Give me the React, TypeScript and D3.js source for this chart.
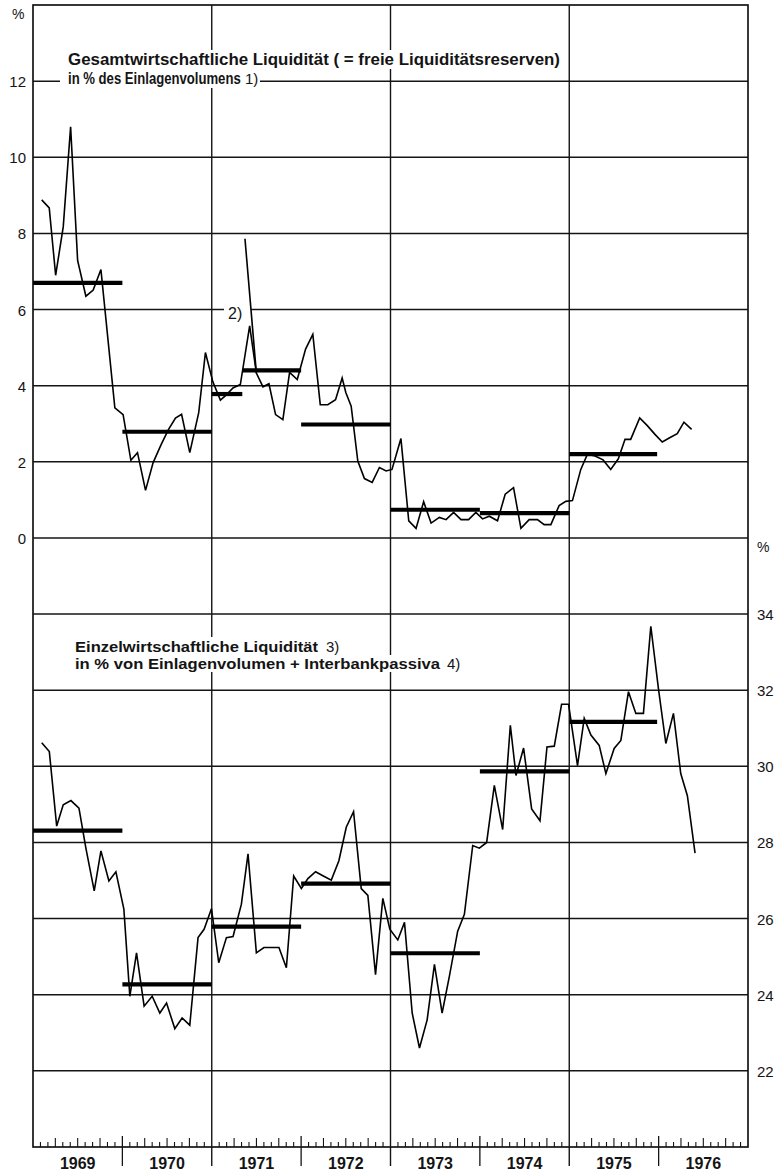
import React from 'react';
import * as d3 from 'd3';

// x values are months since Jan 1969
const years = ['1969', '1970', '1971', '1972', '1973', '1974', '1975', '1976'];
const leftTickValues = [0, 2, 4, 6, 8, 10, 12];
const rightTickValues = [22, 24, 26, 28, 30, 32, 34];

// Gesamtwirtschaftliche Liquidität, % des Einlagenvolumens
const gesamtPoints: [number, number][] = [
  [1.17, 8.88], [2.18, 8.67], [3.04, 6.9], [4.06, 8.17], [5.05, 10.8], [5.99, 7.29],
  [7.1, 6.35], [8.08, 6.51], [9.12, 7.05], [10.99, 3.42], [12.1, 3.24], [13.14, 2.04],
  [14.03, 2.24], [15.11, 1.25], [16.13, 1.98], [17.2, 2.45], [18.2, 2.85], [19.13, 3.15],
  [19.95, 3.25], [21.05, 2.24], [22.25, 3.29], [23.15, 4.87], [24.15, 4.1], [25.16, 3.62],
  [25.96, 3.76], [26.85, 3.94], [27.84, 4.03], [29.09, 5.57], [29.99, 4.33], [30.88, 3.97],
  [31.68, 4.05], [32.57, 3.24], [33.55, 3.11], [34.45, 4.35], [35.48, 4.16], [36.6, 4.96],
  [37.57, 5.35], [38.57, 3.5], [39.58, 3.5], [40.62, 3.63], [41.51, 4.2], [42.0, 3.82],
  [42.72, 3.46], [43.61, 2.02], [44.5, 1.56], [45.54, 1.46], [46.51, 1.85], [47.41, 1.76],
  [48.2, 1.8], [49.4, 2.61], [50.45, 0.45], [51.43, 0.25], [52.45, 0.95], [53.45, 0.39],
  [54.56, 0.54], [55.46, 0.48], [56.47, 0.67], [57.47, 0.48], [58.48, 0.48], [59.46, 0.67],
  [60.36, 0.5], [61.26, 0.57], [62.37, 0.45], [63.4, 1.15], [64.52, 1.32], [65.51, 0.25],
  [66.62, 0.48], [67.73, 0.48], [68.63, 0.35], [69.53, 0.35], [70.64, 0.85], [71.54, 0.96],
  [72.43, 0.98], [73.55, 1.8], [74.44, 2.2], [75.47, 2.15], [76.54, 2.05], [77.57, 1.8],
  [78.59, 2.08], [79.49, 2.59], [80.25, 2.59], [81.46, 3.15], [82.48, 2.95], [83.51, 2.72],
  [84.49, 2.52], [85.48, 2.63], [86.5, 2.74], [87.4, 3.04], [88.43, 2.85],
];
// new definition from spring 1971 (footnote 2)
const gesamtBreak: [number, number][] = [[28.46, 7.86], [29.99, 4.33]];
// [from month, to month, average]
const gesamtAvg: [number, number, number][] = [
  [0, 12, 6.7], [12, 24, 2.79], [24, 28.1, 3.78], [28.1, 36, 4.4],
  [36, 48, 2.98], [48, 60, 0.74], [60, 72, 0.65], [72, 83.8, 2.2],
];

// Einzelwirtschaftliche Liquidität, % von Einlagenvolumen + Interbankpassiva
const einzelPoints: [number, number][] = [
  [1.17, 30.62], [2.19, 30.39], [3.18, 28.43], [4.06, 28.99], [5.09, 29.1], [6.17, 28.9],
  [7.1, 27.85], [8.22, 26.73], [9.12, 27.78], [10.19, 26.99], [11.13, 27.23], [12.2, 26.25],
  [13.0, 23.96], [13.9, 25.1], [14.92, 23.7], [16.0, 23.96], [17.03, 23.52], [17.93, 23.78],
  [19.04, 23.11], [20.02, 23.39], [21.05, 23.2], [22.16, 25.5], [22.97, 25.72], [23.96, 26.26],
  [24.94, 24.84], [25.97, 25.5], [26.86, 25.53], [27.98, 26.38], [28.87, 27.7], [29.99, 25.1],
  [31.01, 25.24], [32.0, 25.24], [33.02, 25.24], [34.02, 24.71], [35.0, 27.12], [36.03, 26.79],
  [36.91, 27.05], [37.94, 27.23], [38.98, 27.12], [40.05, 27.01], [41.07, 27.52], [42.06, 28.4],
  [43.04, 28.81], [44.07, 26.79], [44.96, 26.61], [45.99, 24.53], [46.97, 26.53], [47.91, 25.72],
  [48.98, 25.44], [49.88, 25.9], [50.91, 23.52], [51.89, 22.6], [52.92, 23.34], [53.9, 24.8],
  [54.93, 23.52], [55.91, 24.49], [57.02, 25.67], [57.92, 26.11], [59.04, 27.92], [59.93, 27.85],
  [60.91, 28.0], [61.94, 29.5], [63.06, 28.34], [64.09, 31.08], [64.85, 29.76], [65.87, 30.48],
  [66.95, 28.88], [68.07, 28.57], [69.01, 30.51], [69.99, 30.53], [70.97, 31.63], [71.91, 31.63],
  [73.11, 30.02], [74.01, 31.26], [74.91, 30.82], [76.02, 30.55], [76.92, 29.81], [78.03, 30.47],
  [78.93, 30.68], [79.95, 31.96], [80.94, 31.39], [81.96, 31.39], [82.95, 33.68], [83.97, 32.05],
  [84.97, 30.6], [85.99, 31.39], [86.97, 29.81], [87.86, 29.23], [88.89, 27.72],
];
const einzelAvg: [number, number, number][] = [
  [0, 12, 28.31], [12, 24, 24.27], [24, 36, 25.79], [36, 48, 26.92],
  [48, 60, 25.09], [60, 72, 29.87], [72, 83.8, 31.17],
];

const FONT = "'Liberation Sans', Arial, Helvetica, sans-serif";
const INK = '#141414';

export default function App() {
  const W = 776;
  const H = 1173;
  const x = d3.scaleLinear().domain([0, 96]).range([33, 748]);
  const yTop = d3.scaleLinear().domain([-16, 14]).range([1147, 5]);
  const yBot = d3.scaleLinear().domain([20, 50]).range([1147, 5]);
  const axisY = yTop(-16);

  const lineTop = d3.line<[number, number]>().x(d => x(d[0])).y(d => yTop(d[1]));
  const lineBot = d3.line<[number, number]>().x(d => x(d[0])).y(d => yBot(d[1]));

  const hGrid = d3.range(-14, 14, 2);
  const months = d3.range(1, 96);

  const bold = { fontFamily: FONT, fontWeight: 'bold' as const, fill: INK };
  const plain = { fontFamily: FONT, fill: INK };

  return (
    <div style={{ position: 'absolute', left: 0, top: 0 }}>
      <svg width={W} height={H} viewBox={`0 0 ${W} ${H}`} style={{ display: 'block', background: '#fff' }}>
        <rect x={0} y={0} width={W} height={H} fill="#fff" />
        {/* horizontal grid */}
        {hGrid.map(v => (
          <line key={'h' + v} x1={x(0)} x2={x(96)} y1={yTop(v)} y2={yTop(v)} stroke={INK} strokeWidth={1.5} />
        ))}
        {/* vertical grid every two years */}
        {[24, 48, 72].map(m => (
          <line key={'v' + m} x1={x(m)} x2={x(m)} y1={yTop(14)} y2={axisY + 19} stroke={INK} strokeWidth={1.4} />
        ))}
        {/* frame */}
        <rect x={x(0)} y={yTop(14)} width={x(96) - x(0)} height={axisY - yTop(14)} fill="none" stroke={INK} strokeWidth={1.7} />

        {/* month ticks */}
        {months.filter(m => m % 12 !== 0).map(m => (
          <line key={'t' + m} x1={x(m)} x2={x(m)} y1={axisY} y2={axisY - (m % 3 === 0 ? 9 : 5)} stroke={INK} strokeWidth={1.1} />
        ))}
        {[12, 36, 60, 84].map(m => (
          <line key={'y' + m} x1={x(m)} x2={x(m)} y1={axisY - 11} y2={axisY + 19} stroke={INK} strokeWidth={1.3} />
        ))}
        {years.map((yr, i) => (
          <text key={yr} x={x(i * 12 + 6)} y={1169} textAnchor="middle" fontSize={16} {...bold}>{yr}</text>
        ))}

        {/* left axis labels */}
        {leftTickValues.map(v => (
          <text key={'l' + v} x={26} y={yTop(v) + 6} textAnchor="end" fontSize={15} {...plain}>{v}</text>
        ))}
        <text x={12} y={19} fontSize={14} {...plain}>%</text>
        {/* right axis labels */}
        {rightTickValues.map(v => (
          <text key={'r' + v} x={757} y={yBot(v) + 6} fontSize={15} {...plain}>{v}</text>
        ))}
        <text x={757} y={552} fontSize={14} {...plain}>%</text>

        {/* titles with white backing */}
        <rect x={63} y={50} width={500} height={19} fill="#fff" />
        <rect x={60} y={69} width={200} height={19} fill="#fff" />
        <text x={68} y={65} fontSize={16} {...bold} textLength={492} lengthAdjust="spacingAndGlyphs">
          Gesamtwirtschaftliche Liquidität ( = freie Liquiditätsreserven)
        </text>
        <text transform="translate(68,84) scale(0.82,1)" x={0} y={0} fontSize={16} {...bold}>
          in % des Einlagenvolumens
        </text>
        <text x={245} y={84} fontSize={15} {...plain}>1)</text>

        <rect x={71} y={637} width={278} height={18} fill="#fff" />
        <rect x={71} y={655} width={398} height={17} fill="#fff" />
        <text x={75} y={652} fontSize={15} {...bold} textLength={243} lengthAdjust="spacingAndGlyphs">
          Einzelwirtschaftliche Liquidität
        </text>
        <text x={326} y={652} fontSize={15} {...plain}>3)</text>
        <text x={75} y={669} fontSize={15} {...bold} textLength={365} lengthAdjust="spacingAndGlyphs">
          in % von Einlagenvolumen + Interbankpassiva
        </text>
        <text x={447} y={669} fontSize={15} {...plain}>4)</text>

        {/* footnote 2 marker */}
        <rect x={224} y={303} width={27} height={17} fill="#fff" />
        <text x={228} y={319} fontSize={16} {...plain}>2)</text>

        {/* annual averages */}
        {gesamtAvg.map(([a, b, v], i) => (
          <line key={'ga' + i} x1={x(a)} x2={x(b)} y1={yTop(v)} y2={yTop(v)} stroke="#000" strokeWidth={4.2} />
        ))}
        {einzelAvg.map(([a, b, v], i) => (
          <line key={'ea' + i} x1={x(a)} x2={x(b)} y1={yBot(v)} y2={yBot(v)} stroke="#000" strokeWidth={4.2} />
        ))}

        {/* monthly series */}
        <path d={lineTop(gesamtPoints) || ''} fill="none" stroke="#000" strokeWidth={1.6} />
        <path d={lineTop(gesamtBreak) || ''} fill="none" stroke="#000" strokeWidth={1.6} />
        <path d={lineBot(einzelPoints) || ''} fill="none" stroke="#000" strokeWidth={1.6} />
      </svg>
    </div>
  );
}
